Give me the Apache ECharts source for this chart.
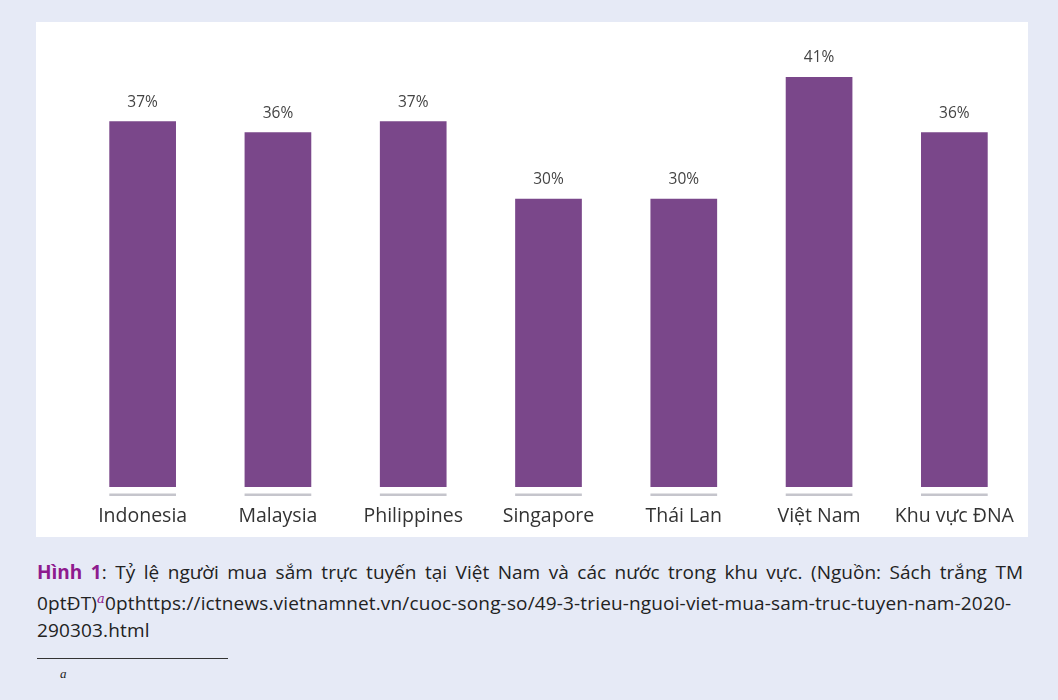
<!DOCTYPE html>
<html>
<head>
<meta charset="utf-8">
<title>Hình 1</title>
<script src="https://cdn.jsdelivr.net/npm/echarts@6/dist/echarts.min.js"></script>
<style>
	html, body { margin: 0; padding: 0; }
	body { width: 1058px; height: 700px; background: #e6eaf6; position: relative; overflow: hidden; font-family: "Open Sans", "Noto Sans", sans-serif; color: #222; }
	#chart { position: absolute; left: 36px; top: 22px; width: 992px; height: 515px; background: #fff; }
	.caption { position: absolute; left: 37px; width: 986px; font-size: 19px; line-height: 26.7px; letter-spacing: 0.15px; }
	.caption .l1 { text-align: justify; text-align-last: justify; white-space: nowrap; letter-spacing: 0; }
	.caption b { color: #8e1b8e; }
	.caption sup { color: #8e1b8e; font-family: "DejaVu Serif", serif; font-style: italic; font-size: 13px; }
	.rule { position: absolute; left: 37px; top: 658px; width: 191px; height: 0; border-top: 1px solid #333; }
	.fn { position: absolute; left: 60px; top: 666px; font-family: "Liberation Serif", serif; font-style: italic; font-size: 13px; }
</style>
</head>
<body>
<div id="chart"></div>
<div class="caption" style="top: 559px;">
	<div class="l1"><b>Hình 1</b>: Tỷ lệ người mua sắm trực tuyến tại Việt Nam và các nước trong khu vực. (Nguồn: Sách trắng TM</div>
	<div>0ptĐT)<sup>a</sup>0pthttps://ictnews.vietnamnet.vn/cuoc-song-so/49-3-trieu-nguoi-viet-mua-sam-truc-tuyen-nam-2020-</div>
	<div>290303.html</div>
</div>
<div class="rule"></div>
<div class="fn">a</div>
<script>
	// du lieu
	var CATEGORIES = ['Indonesia', 'Malaysia', 'Philippines', 'Singapore', 'Thái Lan', 'Việt Nam', 'Khu vực ĐNA'];
	var VALUES = [37, 36, 37, 30, 30, 41, 36];
	var Y_MIN = 4;
	var Y_MAX = 45;

	var ShopChart = {

		init: function () {
			this.render();
		},

		// vach xam duoi moi cot
		renderBase: function (params, api) {
			var p = api.coord([api.value(0), Y_MIN]);
			var w = api.size([1, 0])[0] * 0.493;
			return {
				type: 'rect',
				shape: { x: p[0] - w / 2, y: p[1] + 6.5, width: w, height: 2.5 },
				style: { fill: '#c5c5cc' }
			};
		},

		render: function () {
			var myChart = echarts.init(document.getElementById('chart'));
			var option = {
				animation: false,
				grid: { left: 39, right: 6, top: 10.6, bottom: 50 },
				xAxis: {
					type: 'category',
					data: CATEGORIES,
					axisLine: { show: false },
					axisTick: { show: false },
					axisLabel: {
						color: '#333',
						fontSize: 19.5,
						fontFamily: 'Open Sans',
						margin: 19,
						interval: 0
					}
				},
				yAxis: {
					type: 'value',
					min: Y_MIN,
					max: Y_MAX,
					show: false,
					splitLine: { show: false }
				},
				series: [
					{
						type: 'bar',
						data: VALUES,
						barWidth: '49.3%',
						itemStyle: { color: '#7a478a' },
						label: {
							show: true,
							position: 'top',
							distance: 11,
							formatter: '{c}%',
							color: '#444',
							fontSize: 15.5,
							fontFamily: 'Open Sans'
						}
					},
					{
						type: 'custom',
						clip: false,
						silent: true,
						data: CATEGORIES.map(function (c, i) { return [i, Y_MIN]; }),
						encode: { x: 0, y: 1 },
						renderItem: this.renderBase
					}
				]
			};

			myChart.setOption(option);
		}
	};

	ShopChart.init();
</script>
</body>
</html>
